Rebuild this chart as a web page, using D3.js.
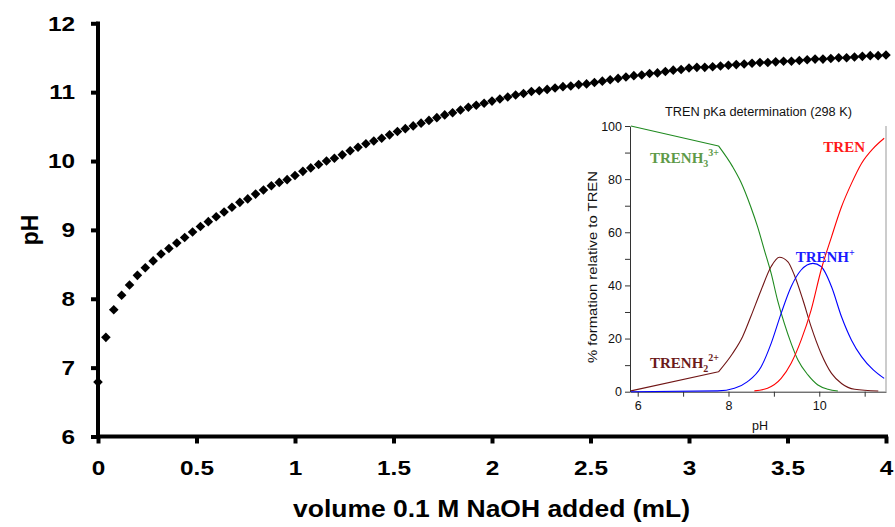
<!DOCTYPE html>
<html><head><meta charset="utf-8">
<script src="https://cdn.jsdelivr.net/npm/d3@7"></script>
<style>body{margin:0;background:#fff}svg{display:block}</style>
</head><body><svg id="c" width="895" height="527"></svg>
<script>
// ---- main titration data ----
const volumeStep = 0.04; // mL per addition
const phValues = [6.79,7.44,7.84,8.05,8.20,8.34,8.45,8.55,8.65,8.73,
8.81,8.89,8.97,9.05,9.12,9.19,9.26,9.33,9.40,9.45,
9.52,9.58,9.64,9.69,9.73,9.79,9.85,9.90,9.95,10.00,
10.04,10.09,10.15,10.20,10.25,10.29,10.33,10.38,10.43,10.47,
10.51,10.55,10.59,10.63,10.67,10.70,10.74,10.78,10.81,10.84,
10.87,10.90,10.93,10.96,10.98,11.01,11.02,11.04,11.06,11.08,
11.09,11.11,11.12,11.14,11.16,11.18,11.20,11.22,11.24,11.25,
11.27,11.28,11.30,11.32,11.33,11.35,11.36,11.36,11.37,11.38,
11.39,11.40,11.41,11.42,11.43,11.43,11.44,11.45,11.45,11.46,
11.47,11.48,11.48,11.49,11.50,11.50,11.51,11.52,11.53,11.53,11.54];
const volumes = phValues.map((_, i) => +(i * volumeStep).toFixed(2));
const xTicksMain = [0,0.5,1,1.5,2,2.5,3,3.5,4];
const yTicksMain = [6,7,8,9,10,11,12];

// ---- inset species distribution (pH, %) ----
const trenH3 = [[5.85,100],[7.78,92.5],[8.09,84.7],[8.27,79],[8.49,69.6],[8.64,62.1],[8.79,53.3],[8.94,44.5],[9.08,34.5],[9.23,25.7],[9.38,18.2],[9.53,11.9],[9.75,6.3],[9.97,2.5],[10.19,0.9],[10.41,0.25]];
const trenH2 = [[5.85,0.3],[7.78,7.5],[8.09,14.4],[8.31,20.7],[8.49,28.2],[8.72,38.3],[8.94,47.1],[9.12,50.6],[9.31,48.9],[9.45,43.9],[9.64,34.5],[9.82,24.5],[10.04,14.4],[10.27,6.9],[10.49,3.1],[10.78,0.9],[11.30,0.25]];
const trenH = [[5.85,0],[7.76,0.3],[8.13,1.3],[8.42,3.8],[8.72,9.4],[8.94,18.2],[9.16,29.5],[9.38,39.5],[9.60,45.8],[9.86,48.3],[10.04,47.1],[10.27,39.5],[10.49,28.2],[10.71,19.4],[10.93,13.2],[11.19,8.2],[11.43,5.0]];
const tren = [[8.57,0.3],[8.86,1.3],[9.16,5.0],[9.38,10.7],[9.60,19.4],[9.82,30.7],[10.04,45.8],[10.27,58.3],[10.49,69.6],[10.71,78.4],[10.93,85.9],[11.19,91.6],[11.43,95.4]];
const insetXTicks = [6,7,8,9,10,11];
const insetXLabels = [6,8,10];
const insetYTicks = [0,10,20,30,40,50,60,70,80,90,100];
const insetYLabels = [0,20,40,60,80,100];

const svg = d3.select("#c");
const sans = "'Liberation Sans', Arial, sans-serif";
const serif = "'Liberation Serif', 'Times New Roman', serif";
const stretch = 1.16;

// ---------- main chart ----------
const x = d3.scaleLinear().domain([0,4]).range([98,886]);
const y = d3.scaleLinear().domain([6,12]).range([436.5,23.3]);

const gx = svg.append("g").attr("transform","translate(0,436.5)")
  .call(d3.axisBottom(x).tickValues(xTicksMain).tickSize(7).tickSizeOuter(0).tickPadding(17).tickFormat(d3.format("")));
const gy = svg.append("g").attr("transform","translate(98,0)")
  .call(d3.axisLeft(y).tickValues(yTicksMain).tickSize(7).tickSizeOuter(0).tickFormat(d3.format("")));
[gx,gy].forEach(g=>{
  g.select(".domain").attr("stroke","#000").attr("stroke-width",4);
  g.selectAll(".tick line").attr("stroke","#000").attr("stroke-width",4);
  g.selectAll(".tick text").attr("fill","#000").style("font-family",sans).style("font-weight","bold").style("font-size","21px");
});
gx.selectAll(".tick text").attr("transform",`scale(${stretch},1)`);
gy.selectAll(".tick text").attr("x",0).attr("transform",`translate(-23,0) scale(${stretch},1)`);
gx.select(".domain").attr("d","M96,0H888");
gy.select(".domain").attr("d","M0,21.5V438.5");

svg.append("text").attr("x",293).attr("y",517).attr("textLength",397).attr("lengthAdjust","spacingAndGlyphs")
  .style("font-family",sans).style("font-weight","bold").style("font-size","23px").text("volume 0.1 M NaOH added (mL)");
svg.append("text").attr("transform","translate(38,230) rotate(-90)").attr("text-anchor","middle")
  .style("font-family",sans).style("font-weight","bold").style("font-size","23px").text("pH");

const diamond = d3.symbol().type(d3.symbolSquare).size(46);
svg.append("g").selectAll("path").data(volumes.map((v,i)=>[v,phValues[i]])).join("path")
  .attr("d",diamond).attr("fill","#000")
  .attr("transform",d=>`translate(${x(d[0])},${y(d[1])}) rotate(45)`);

// ---------- inset ----------
const ix = d3.scaleLinear().domain([5.83,11.47]).range([630,886]);
const iy = d3.scaleLinear().domain([0,100]).range([391.7,126]);
const ins = svg.append("g");
ins.append("rect").attr("x",630).attr("y",126).attr("width",256).attr("height",266).attr("fill","#fff");

const ax = ins.append("g").attr("transform","translate(0,391.7)")
  .call(d3.axisBottom(ix).tickValues(insetXTicks).tickSize(5).tickSizeOuter(0).tickPadding(4)
  .tickFormat(d=>insetXLabels.includes(d)?d:""));
const ay = ins.append("g").attr("transform","translate(630,0)")
  .call(d3.axisLeft(iy).tickValues(insetYTicks).tickSize(5).tickSizeOuter(0).tickPadding(3)
  .tickFormat(d=>insetYLabels.includes(d)?d:""));
[ax,ay].forEach(g=>{
  g.select(".domain").attr("stroke","#333").attr("stroke-width",1);
  g.selectAll(".tick line").attr("stroke","#333").attr("stroke-width",1);
  g.selectAll(".tick text").attr("fill","#111").style("font-family",sans).style("font-size","12.5px");
});
ins.append("line").attr("x1",886).attr("x2",886).attr("y1",126).attr("y2",391.7).attr("stroke","#999").attr("stroke-width",1);

ins.append("text").attr("x",665).attr("y",116).attr("textLength",187).attr("lengthAdjust","spacingAndGlyphs")
  .style("font-family",sans).style("font-size","12.5px").attr("fill","#111").text("TREN pKa determination (298 K)");
ins.append("text").attr("transform","translate(597,267) rotate(-90)").attr("text-anchor","middle")
  .attr("textLength",192).attr("lengthAdjust","spacingAndGlyphs")
  .style("font-family",sans).style("font-size","13.5px").attr("fill","#111").text("% formation relative to TREN");
ins.append("text").attr("x",760).attr("y",430).attr("text-anchor","middle")
  .style("font-family",sans).style("font-size","12.5px").attr("fill","#111").text("pH");

const linLine = d3.line().x(d=>ix(d[0])).y(d=>iy(d[1]));
const smoothLine = d3.line().x(d=>ix(d[0])).y(d=>iy(d[1])).curve(d3.curveMonotoneX);
const species = [
  {data:trenH3, color:"#1f8a1f", kink:1},
  {data:trenH2, color:"#701515", kink:1},
  {data:trenH, color:"#0000ff", kink:0},
  {data:tren, color:"#ff0000", kink:0}
];
ins.append("g").selectAll("path").data(species).join("path")
  .attr("d",d=>(d.kink>0?linLine(d.data.slice(0,d.kink+1)):"") + smoothLine(d.data.slice(d.kink)))
  .attr("fill","none").attr("stroke",d=>d.color).attr("stroke-width",1.1);

function speciesLabel(px,py,color,base,sub,sup){
  const t = ins.append("text").attr("x",px).attr("y",py).attr("fill",color)
    .style("font-family",serif).style("font-weight","bold").style("font-size","15px");
  t.append("tspan").text(base);
  if(sub) t.append("tspan").attr("dy",4).style("font-size","10px").text(sub);
  if(sup) t.append("tspan").attr("dy",sub?-11:-6).style("font-size","10px").text(sup);
}
speciesLabel(650,162.7,"#5e9a48","TRENH","3","3+");
speciesLabel(650,368,"#6b1a1a","TRENH","2","2+");
speciesLabel(795.7,261.7,"#1a1aff","TRENH",null,"+");
speciesLabel(823.3,151.7,"#ff1a1a","TREN",null,null);
</script></body></html>
